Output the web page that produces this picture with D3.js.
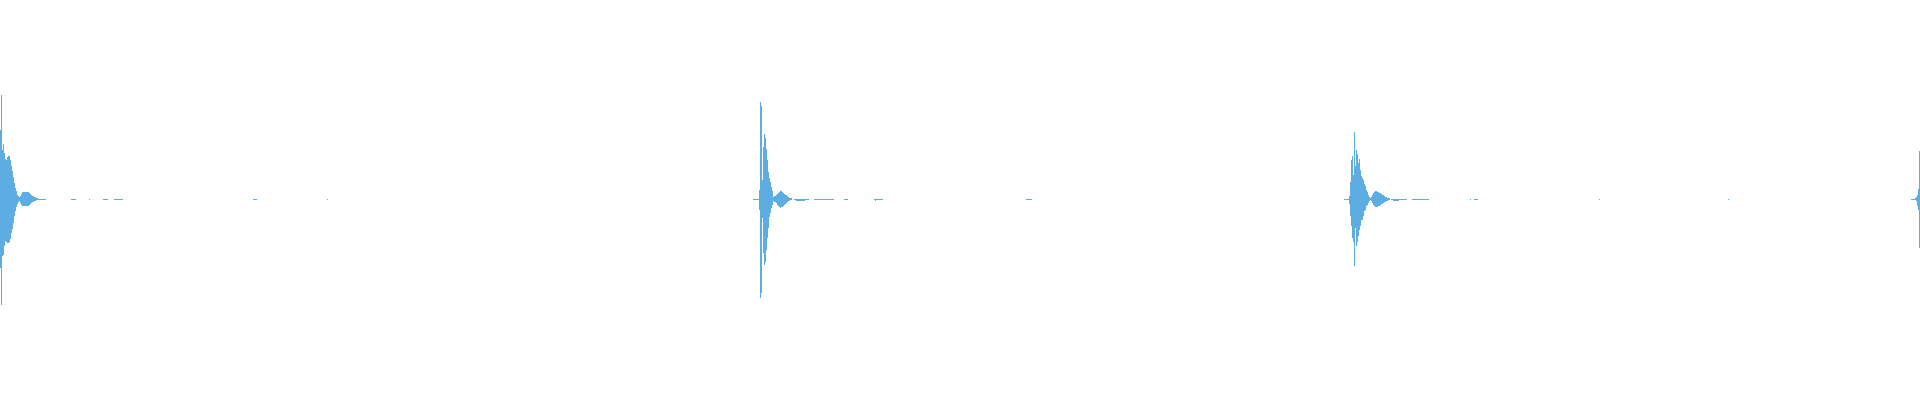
<!DOCTYPE html>
<html>
<head>
<meta charset="utf-8">
<script src="https://cdn.jsdelivr.net/npm/d3@7"></script>
<style>
html, body { margin: 0; padding: 0; background: #ffffff; }
svg { display: block; }
</style>
</head>
<body>
<svg id="chart" width="1920" height="400"></svg>
<script>
// Waveform envelope data (normalized amplitude, per pixel column)
const burst1Start = 0;
const burst1Max = [0.345,0.52,0.245,0.275,0.23,0.2,0.195,0.21,0.215,0.215,0.195,0.165,0.14,0.11,0.08,0.055,0.04,0.02,0.015,0.01,0.015,0.025,
  0.035,0.035,0.035,0.035,0.035,0.035,0.035,0.03,0.025,0.02,0.015,0.015,0.01,0.01,0.005,0.005,0,0,0,0,0,0,0,0];
const burst1Min = [-0.345,-0.53,-0.285,-0.28,-0.235,-0.21,-0.215,-0.22,-0.22,-0.215,-0.2,-0.17,-0.15,-0.12,-0.085,-0.06,-0.04,-0.025,-0.015,-0.01,-0.02,-0.03,
  -0.035,-0.035,-0.035,-0.035,-0.035,-0.035,-0.035,-0.03,-0.025,-0.02,-0.015,-0.015,-0.01,-0.01,-0.005,-0.005,0,0,0,0,0,0,0,0];

const burst2Start = 753;
const burst2Max = [0,0,0,0,0,0,0.045,0.485,0.465,0.095,0.26,0.325,0.305,0.25,0.195,0.135,0.105,0.085,0.06,0.04,0.01,0.015,
  0.015,0.02,0.025,0.03,0.035,0.04,0.04,0.035,0.03,0.025,0.02,0.02,0.015,0.01,0.005,0.005,0.005];
const burst2Min = [0,0,0,0,0,0,-0.055,-0.495,-0.47,-0.095,-0.27,-0.33,-0.315,-0.255,-0.195,-0.145,-0.09,-0.07,-0.045,-0.03,-0.01,-0.015,
  -0.015,-0.02,-0.03,-0.035,-0.04,-0.045,-0.04,-0.04,-0.035,-0.03,-0.025,-0.02,-0.015,-0.01,-0.01,-0.005,-0.005];

const burst3Start = 1344;
const burst3Max = [0,0,0,0,0,0.015,0.085,0.195,0.215,0.12,0.335,0.165,0.245,0.225,0.18,0.2,0.145,0.115,0.105,0.095,0.075,0.065,0.045,0.035,0.02,0.01,0.005,
  0.01,0.02,0.03,0.035,0.04,0.04,0.035,0.035,0.03,0.03,0.025,0.02,0.02,0.015,0.01,0.01,0.005,0.005,0.005];
const burst3Min = [0,0,0,0,0,-0.025,-0.085,-0.135,-0.195,-0.215,-0.335,-0.145,-0.235,-0.215,-0.185,-0.155,-0.135,-0.105,-0.105,-0.085,-0.06,-0.055,-0.035,-0.03,-0.02,-0.01,-0.005,
  -0.01,-0.02,-0.03,-0.035,-0.04,-0.04,-0.04,-0.035,-0.035,-0.03,-0.025,-0.025,-0.02,-0.015,-0.015,-0.01,-0.01,-0.005,-0.005];

const burst4Start = 1911;
const burst4Max = [0,0,0,0,0.005,0.01,0.02,0.05,0.24];
const burst4Min = [0,0,0,0,-0.005,-0.01,-0.035,-0.055,-0.245];

// near-silent stretches: [first column, last column]
const quietRuns = [[71,75],[89,89],[103,107],[114,122],[253,256],[327,327],
  [794,808],[814,833],[844,847],[874,882],[1026,1031],
  [1391,1406],[1412,1428],[1470,1470],[1474,1477],[1599,1599],[1728,1728]];
// slight negative dips inside the quiet stretches: [first, last, min]
const quietDips = [[796,804,-0.01],[1393,1398,-0.01],[875,875,-0.01]];

const width = 1920, height = 400;
const color = "#5dade2";

// Build column records
const columns = new Map();
function put(x, mx, mn) {
  const c = columns.get(x);
  if (c) { c.max = Math.max(c.max, mx); c.min = Math.min(c.min, mn); }
  else columns.set(x, {x, max: mx, min: mn});
}
[[burst1Start, burst1Max, burst1Min],[burst2Start, burst2Max, burst2Min],
 [burst3Start, burst3Max, burst3Min],[burst4Start, burst4Max, burst4Min]].forEach(([s, mx, mn]) => {
  mx.forEach((v, i) => put(s + i, v, mn[i]));
});
quietRuns.forEach(([a, b]) => { for (let x = a; x <= b; x++) put(x, 0, 0); });
quietDips.forEach(([a, b, m]) => { for (let x = a; x <= b; x++) put(x, 0, m); });
const data = Array.from(columns.values()).sort((a, b) => a.x - b.x);

const xScale = d3.scaleLinear().domain([0, width]).range([0, width]);
const yScale = d3.scaleLinear().domain([-1, 1]).range([399, -1]);

const svg = d3.select("#chart");
svg.append("rect").attr("width", width).attr("height", height).attr("fill", "#ffffff");

svg.append("g")
  .attr("shape-rendering", "crispEdges")
  .selectAll("rect")
  .data(data)
  .join("rect")
  .attr("x", d => xScale(d.x))
  .attr("width", d => Math.max(1, xScale(d.x + 1) - xScale(d.x)))
  .attr("y", d => yScale(d.max))
  .attr("height", d => Math.max(1, yScale(d.min) - yScale(d.max)))
  .attr("fill", color);
</script>
</body>
</html>
